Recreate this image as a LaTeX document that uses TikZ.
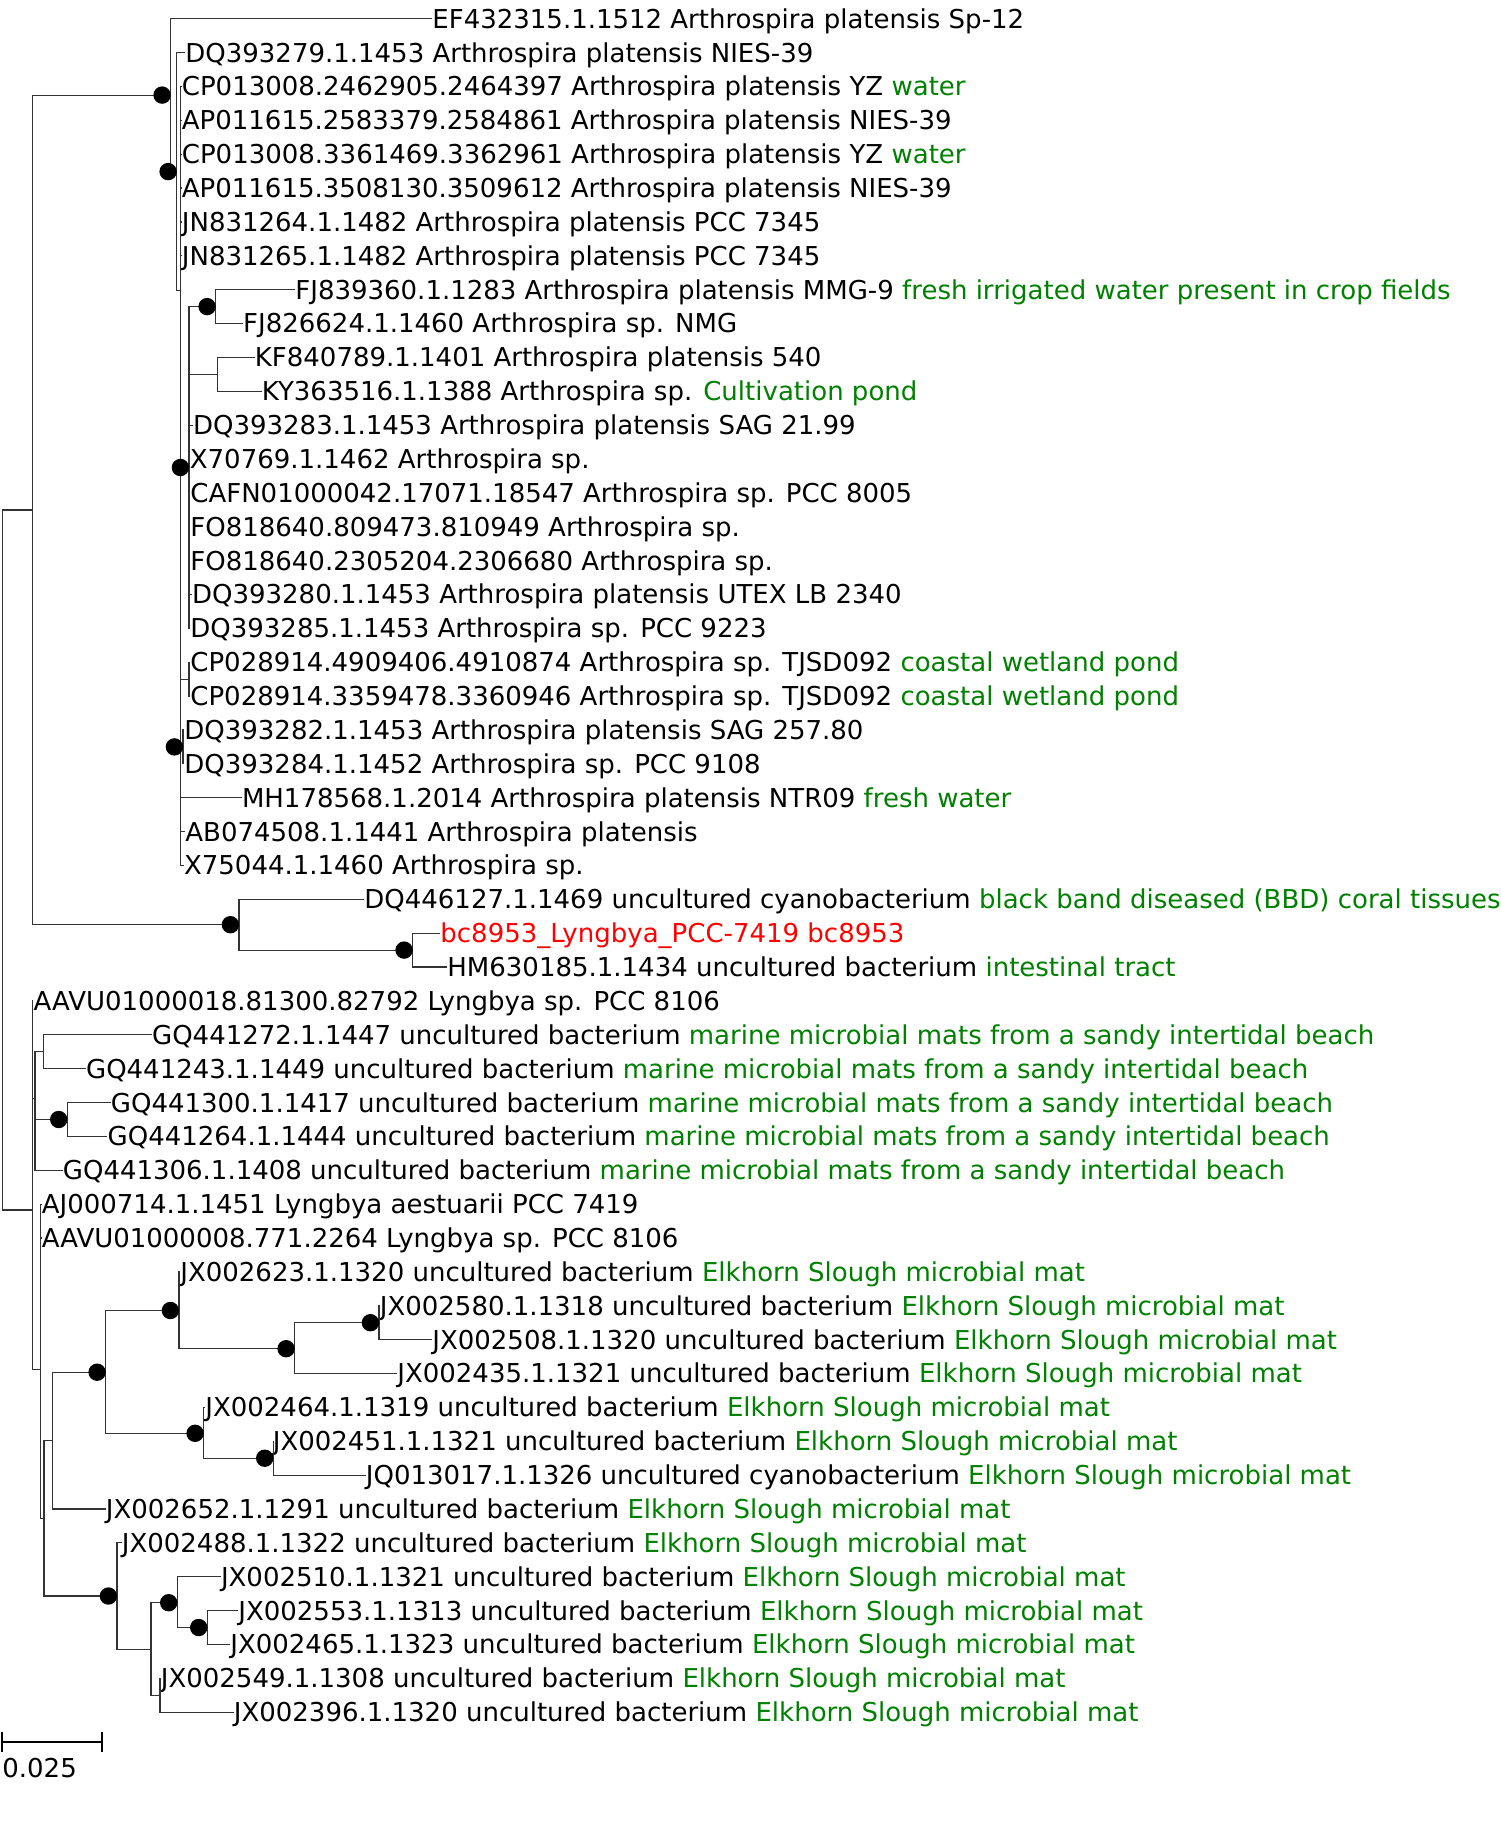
\documentclass[tikz,border=0pt]{standalone}
\usepackage{fontspec}
\setmainfont{DejaVu Sans}
\definecolor{habc}{RGB}{0,128,0}
\definecolor{hlc}{RGB}{255,0,0}
\newcommand\hab[1]{\textcolor{habc}{#1}}
\newcommand\tleaf[4]{\node[leaf] (#1) at (#2,{18.7+33.87*#3}) {#4};}
\begin{document}
\begin{tikzpicture}[x=0.5pt,y=-0.5pt,
  leaf/.style={anchor=west,inner sep=0pt,text height=9.45pt,text depth=0pt,font=\fontsize{13pt}{15pt}\selectfont},
  branch/.style={draw=black!80,line width=0.6pt},
  bootdot/.style={fill=black},
  scalebar/.style={draw=black,line width=0.8pt}]
\useasboundingbox (0,0) rectangle (1500,1831);

% ---- leaves ----
\tleaf{l0}{432}{0}{EF432315.1.1512 Arthrospira platensis Sp-12}
\tleaf{l1}{185}{1}{DQ393279.1.1453 Arthrospira platensis NIES-39}
\tleaf{l2}{181.5}{2}{CP013008.2462905.2464397 Arthrospira platensis YZ \hab{water}}
\tleaf{l3}{181.5}{3}{AP011615.2583379.2584861 Arthrospira platensis NIES-39}
\tleaf{l4}{181.5}{4}{CP013008.3361469.3362961 Arthrospira platensis YZ \hab{water}}
\tleaf{l5}{181.5}{5}{AP011615.3508130.3509612 Arthrospira platensis NIES-39}
\tleaf{l6}{181.5}{6}{JN831264.1.1482 Arthrospira platensis PCC 7345}
\tleaf{l7}{181.5}{7}{JN831265.1.1482 Arthrospira platensis PCC 7345}
\tleaf{l8}{295}{8}{FJ839360.1.1283 Arthrospira platensis MMG-9 \hab{fresh irrigated water present in crop fields}}
\tleaf{l9}{242.8}{9}{FJ826624.1.1460 Arthrospira sp. NMG}
\tleaf{l10}{254.5}{10}{KF840789.1.1401 Arthrospira platensis 540}
\tleaf{l11}{261.5}{11}{KY363516.1.1388 Arthrospira sp. \hab{Cultivation pond}}
\tleaf{l12}{192.7}{12}{DQ393283.1.1453 Arthrospira platensis SAG 21.99}
\tleaf{l13}{189.5}{13}{X70769.1.1462 Arthrospira sp.}
\tleaf{l14}{190}{14}{CAFN01000042.17071.18547 Arthrospira sp. PCC 8005}
\tleaf{l15}{190}{15}{FO818640.809473.810949 Arthrospira sp.}
\tleaf{l16}{190}{16}{FO818640.2305204.2306680 Arthrospira sp.}
\tleaf{l17}{191.7}{17}{DQ393280.1.1453 Arthrospira platensis UTEX LB 2340}
\tleaf{l18}{190}{18}{DQ393285.1.1453 Arthrospira sp. PCC 9223}
\tleaf{l19}{190}{19}{CP028914.4909406.4910874 Arthrospira sp. TJSD092 \hab{coastal wetland pond}}
\tleaf{l20}{190}{20}{CP028914.3359478.3360946 Arthrospira sp. TJSD092 \hab{coastal wetland pond}}
\tleaf{l21}{184}{21}{DQ393282.1.1453 Arthrospira platensis SAG 257.80}
\tleaf{l22}{184}{22}{DQ393284.1.1452 Arthrospira sp. PCC 9108}
\tleaf{l23}{241.6}{23}{MH178568.1.2014 Arthrospira platensis NTR09 \hab{fresh water}}
\tleaf{l24}{185}{24}{AB074508.1.1441 Arthrospira platensis}
\tleaf{l25}{183.7}{25}{X75044.1.1460 Arthrospira sp.}
\tleaf{l26}{364}{26}{DQ446127.1.1469 uncultured cyanobacterium \hab{black band diseased (BBD) coral tissues}}
\tleaf{l27}{440}{27}{\textcolor{hlc}{bc8953\_Lyngbya\_PCC-7419 bc8953}}
\tleaf{l28}{447}{28}{HM630185.1.1434 uncultured bacterium \hab{intestinal tract}}
\tleaf{l29}{33.3}{29}{AAVU01000018.81300.82792 Lyngbya sp. PCC 8106}
\tleaf{l30}{151.7}{30}{GQ441272.1.1447 uncultured bacterium \hab{marine microbial mats from a sandy intertidal beach}}
\tleaf{l31}{85.7}{31}{GQ441243.1.1449 uncultured bacterium \hab{marine microbial mats from a sandy intertidal beach}}
\tleaf{l32}{110.5}{32}{GQ441300.1.1417 uncultured bacterium \hab{marine microbial mats from a sandy intertidal beach}}
\tleaf{l33}{107.3}{33}{GQ441264.1.1444 uncultured bacterium \hab{marine microbial mats from a sandy intertidal beach}}
\tleaf{l34}{62.5}{34}{GQ441306.1.1408 uncultured bacterium \hab{marine microbial mats from a sandy intertidal beach}}
\tleaf{l35}{41.5}{35}{AJ000714.1.1451 Lyngbya aestuarii PCC 7419}
\tleaf{l36}{41.5}{36}{AAVU01000008.771.2264 Lyngbya sp. PCC 8106}
\tleaf{l37}{180}{37}{JX002623.1.1320 uncultured bacterium \hab{Elkhorn Slough microbial mat}}
\tleaf{l38}{379.5}{38}{JX002580.1.1318 uncultured bacterium \hab{Elkhorn Slough microbial mat}}
\tleaf{l39}{432}{39}{JX002508.1.1320 uncultured bacterium \hab{Elkhorn Slough microbial mat}}
\tleaf{l40}{397}{40}{JX002435.1.1321 uncultured bacterium \hab{Elkhorn Slough microbial mat}}
\tleaf{l41}{205}{41}{JX002464.1.1319 uncultured bacterium \hab{Elkhorn Slough microbial mat}}
\tleaf{l42}{272.5}{42}{JX002451.1.1321 uncultured bacterium \hab{Elkhorn Slough microbial mat}}
\tleaf{l43}{365.5}{43}{JQ013017.1.1326 uncultured cyanobacterium \hab{Elkhorn Slough microbial mat}}
\tleaf{l44}{105.5}{44}{JX002652.1.1291 uncultured bacterium \hab{Elkhorn Slough microbial mat}}
\tleaf{l45}{121.5}{45}{JX002488.1.1322 uncultured bacterium \hab{Elkhorn Slough microbial mat}}
\tleaf{l46}{220.6}{46}{JX002510.1.1321 uncultured bacterium \hab{Elkhorn Slough microbial mat}}
\tleaf{l47}{238}{47}{JX002553.1.1313 uncultured bacterium \hab{Elkhorn Slough microbial mat}}
\tleaf{l48}{230}{48}{JX002465.1.1323 uncultured bacterium \hab{Elkhorn Slough microbial mat}}
\tleaf{l49}{160.5}{49}{JX002549.1.1308 uncultured bacterium \hab{Elkhorn Slough microbial mat}}
\tleaf{l50}{233.5}{50}{JX002396.1.1320 uncultured bacterium \hab{Elkhorn Slough microbial mat}}

% ---- internal nodes ----
\coordinate (root) at (2.3,860);
\coordinate (A) at (32.3,509.9);
\coordinate (C) at (170.7,95.1);
\coordinate (D) at (176.7,171.6);
\coordinate (E) at (180.7,290.7);
\coordinate (F) at (189,467.5);
\coordinate (F2) at (189,679.2);
\coordinate (G) at (183,746.9);
\coordinate (FJ) at (215.7,306.6);
\coordinate (KF) at (217.7,374.3);
\coordinate (M) at (239,924.7);
\coordinate (N) at (412.7,950.1);
\coordinate (B) at (32.3,1209.9);
\coordinate (B1) at (32.3,1049.7);
\coordinate (GQ) at (35,1098.4);
\coordinate (P) at (43.3,1051.7);
\coordinate (Q) at (67.3,1119.5);
\coordinate (L) at (40.7,1369.7);
\coordinate (LA) at (40.7,1221.1);
\coordinate (S) at (44,1518.3);
\coordinate (T) at (52.3,1440.7);
\coordinate (V) at (105.7,1372.2);
\coordinate (W) at (179,1310.5);
\coordinate (Y) at (294.7,1348.7);
\coordinate (Z) at (379,1322.7);
\coordinate (X) at (203.7,1433.3);
\coordinate (AA) at (273.3,1458.2);
\coordinate (U) at (117,1596);
\coordinate (BB) at (151,1649.3);
\coordinate (CC) at (177.3,1602.7);
\coordinate (EE) at (207.3,1627.5);
\coordinate (DD) at (160,1695.3);

% ---- branches ----
\draw[branch] (root) |- (A);
\draw[branch] (root) |- (B);
\draw[branch] (A) |- (C);
\draw[branch] (A) |- (M);
\draw[branch] (C) |- (l0.west);
\draw[branch] (C) |- (D);
\draw[branch] (D) |- (l1.west);
\draw[branch] (D) |- (E);
\foreach \k in {l2,l3,l4,l5,l6,l7,l24,l25,l23} {\draw[branch] (E) |- (\k.west);}
\draw[branch] (E) |- (F);
\draw[branch] (E) |- (F2);
\draw[branch] (E) |- (G);
\draw[branch] (F) |- (FJ);
\draw[branch] (F) |- (KF);
\foreach \k in {l12,l13,l14,l15,l16,l17,l18} {\draw[branch] (F) |- (\k.west);}
\draw[branch] (F2) |- (l19.west);
\draw[branch] (F2) |- (l20.west);
\draw[branch] (G) |- (l21.west);
\draw[branch] (G) |- (l22.west);
\draw[branch] (FJ) |- (l8.west);
\draw[branch] (FJ) |- (l9.west);
\draw[branch] (KF) |- (l10.west);
\draw[branch] (KF) |- (l11.west);
\draw[branch] (M) |- (l26.west);
\draw[branch] (M) |- (N);
\draw[branch] (N) |- (l27.west);
\draw[branch] (N) |- (l28.west);
\draw[branch] (B) |- (B1);
\draw[branch] (B) |- (L);
\draw[branch] (B1) |- (l29.west);
\draw[branch] (B1) |- (GQ);
\draw[branch] (GQ) |- (P);
\draw[branch] (GQ) |- (Q);
\draw[branch] (GQ) |- (l34.west);
\draw[branch] (P) |- (l30.west);
\draw[branch] (P) |- (l31.west);
\draw[branch] (Q) |- (l32.west);
\draw[branch] (Q) |- (l33.west);
\draw[branch] (L) |- (LA);
\draw[branch] (L) |- (S);
\draw[branch] (LA) |- (l35.west);
\draw[branch] (LA) |- (l36.west);
\draw[branch] (S) |- (T);
\draw[branch] (S) |- (U);
\draw[branch] (T) |- (V);
\draw[branch] (T) |- (l44.west);
\draw[branch] (V) |- (W);
\draw[branch] (V) |- (X);
\draw[branch] (W) |- (l37.west);
\draw[branch] (W) |- (Y);
\draw[branch] (Y) |- (Z);
\draw[branch] (Y) |- (l40.west);
\draw[branch] (Z) |- (l38.west);
\draw[branch] (Z) |- (l39.west);
\draw[branch] (X) |- (l41.west);
\draw[branch] (X) |- (AA);
\draw[branch] (AA) |- (l42.west);
\draw[branch] (AA) |- (l43.west);
\draw[branch] (U) |- (l45.west);
\draw[branch] (U) |- (BB);
\draw[branch] (BB) |- (CC);
\draw[branch] (BB) |- (DD);
\draw[branch] (CC) |- (l46.west);
\draw[branch] (CC) |- (EE);
\draw[branch] (EE) |- (l47.west);
\draw[branch] (EE) |- (l48.west);
\draw[branch] (DD) |- (l49.west);
\draw[branch] (DD) |- (l50.west);

% ---- support dots ----
\foreach \k in {C,D,F,FJ,G,M,N,Q,W,V,Y,Z,X,AA,U,CC,EE} {\fill[bootdot] ([xshift=-4.3pt]\k) circle[radius=4.35pt];}

% ---- scale bar ----
\coordinate (sb1) at (2.3,1741.7);
\coordinate (sb2) at (101.7,1741.7);
\draw[scalebar] (sb1) -- (sb2);
\draw[scalebar] ([yshift=5pt]sb1) -- ([yshift=-5pt]sb1);
\draw[scalebar] ([yshift=5pt]sb2) -- ([yshift=-5pt]sb2);
\node[leaf] (sblab) at (2,1768.3) {0.025};
\end{tikzpicture}
\end{document}
